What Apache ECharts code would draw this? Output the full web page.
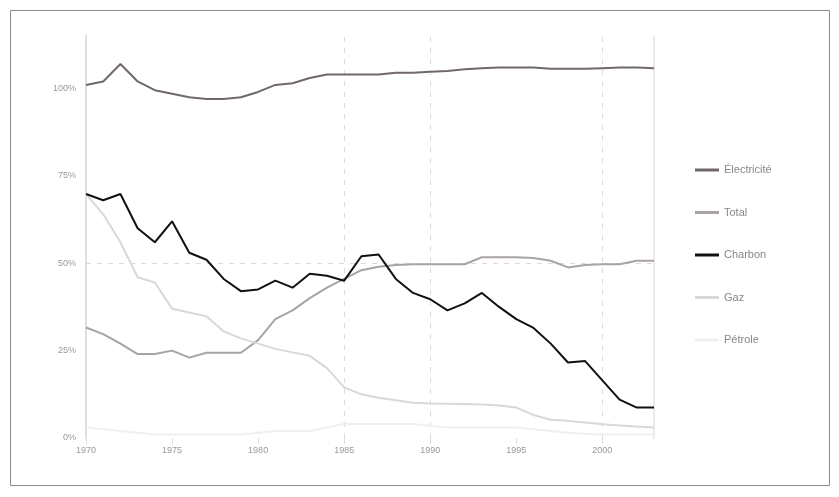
<!DOCTYPE html>
<html><head><meta charset="utf-8">
<script src="https://cdn.jsdelivr.net/npm/echarts@6/dist/echarts.min.js"></script>
<style>html,body{margin:0;padding:0;background:#fff}#c{width:839px;height:497px}</style>
</head><body><div id="c"></div>
<script>
const years = [];
for (let y = 1970; y <= 2003; y++) years.push(String(y));
const electricite = [101,102,107,102,99.5,98.5,97.5,97,97,97.5,99,101,101.5,103,104,104,104,104,104.5,104.5,104.8,105,105.5,105.8,106,106,106,105.6,105.6,105.6,105.8,106,106,105.8];
const total = [31.6,29.7,27,24,24,25,23,24.4,24.4,24.4,28,34,36.5,40,43,45.5,48,49,49.5,49.7,49.7,49.7,49.7,51.7,51.7,51.7,51.5,50.7,48.8,49.5,49.7,49.7,50.7,50.7];
const charbon = [69.8,68,69.8,60,56,62,53,51,45.5,42,42.5,45,43,47,46.4,45,52,52.5,45.5,41.5,39.7,36.5,38.5,41.5,37.5,34,31.5,27,21.6,22,16.5,11,8.7,8.7];
const gaz = [69.8,64,56,46,44.5,37,35.9,34.8,30.5,28.5,27,25.5,24.5,23.5,20,14.5,12.5,11.5,10.8,10.1,9.9,9.8,9.7,9.6,9.3,8.7,6.6,5.2,4.9,4.4,3.9,3.6,3.3,3];
const petrole = [3,2.5,2,1.5,1,1,1,1,1,1,1.5,2,2,2,3,4,4,4,4,4,3.5,3,3,3,3,3,2.5,2,1.5,1.2,1,1,1,1];
const seriesNames = ['Électricité','Total','Charbon','Gaz','Pétrole'];
const gridYears = ['1985','1990','2000'];
const gridValues = [50];

const colors = ['#716868','#aaa3a3','#111111','#dcd7d7','#f1eeee'];
const datas = [electricite, total, charbon, gaz, petrole];

const chart = echarts.init(document.getElementById('c'), null, {renderer:'canvas'});
const series = seriesNames.map((n,i)=>({
  name:n, type:'line', data:datas[i], showSymbol:false, symbol:'none',
  lineStyle:{color:colors[i], width:2}, itemStyle:{color:colors[i]}, z: 5 - (i===2?-3:0),
  animation:false
}));
series.push({
  type:'line', data:[], silent:true, animation:false,
  markLine:{symbol:'none', silent:true, label:{show:false},
    lineStyle:{color:'#dedada', type:[5,6], width:1},
    data: gridYears.map(y=>({xAxis:y})).concat(gridValues.map(v=>({yAxis:v})))}
});
chart.setOption({
  animation:false,
  backgroundColor:'#fff',
  graphic:[{type:'rect', shape:{x:10.5,y:10.5,width:819,height:475}, style:{fill:null, stroke:'#8a8a8a', lineWidth:1}}],
  grid:{left:86, right:185, top:36, bottom:59},
  legend:{orient:'vertical', left:690, top:158, itemGap:28.5, itemWidth:24, itemHeight:3, icon:'rect',
    data:seriesNames, textStyle:{color:'#888', fontSize:11, fontFamily:'Liberation Sans, Arial', lineHeight:14}},
  xAxis:{type:'category', data:years, boundaryGap:false,
    axisLine:{show:false},
    axisTick:{show:true, interval:4, length:6, lineStyle:{color:'#ddd'}},
    axisLabel:{interval:4, color:'#999', fontSize:9, fontFamily:'Liberation Sans, Arial', margin:8},
    splitLine:{show:false}},
  yAxis:[{type:'value', min:0, max:115, interval:25,
    axisLine:{show:true, lineStyle:{color:'#e2dede', width:2}},
    axisTick:{show:false},
    axisLabel:{color:'#999', fontSize:9, fontFamily:'Liberation Sans, Arial', margin:10,
      formatter:v=> (v%25===0 && v<=100) ? v+'%' : ''},
    splitLine:{show:false}},
    {type:'value', min:0, max:115, position:'right',
    axisLine:{show:true, lineStyle:{color:'#eeeaea', width:2}}, axisTick:{show:false}, axisLabel:{show:false}, splitLine:{show:false}}],
  series:series
});
</script></body></html>
